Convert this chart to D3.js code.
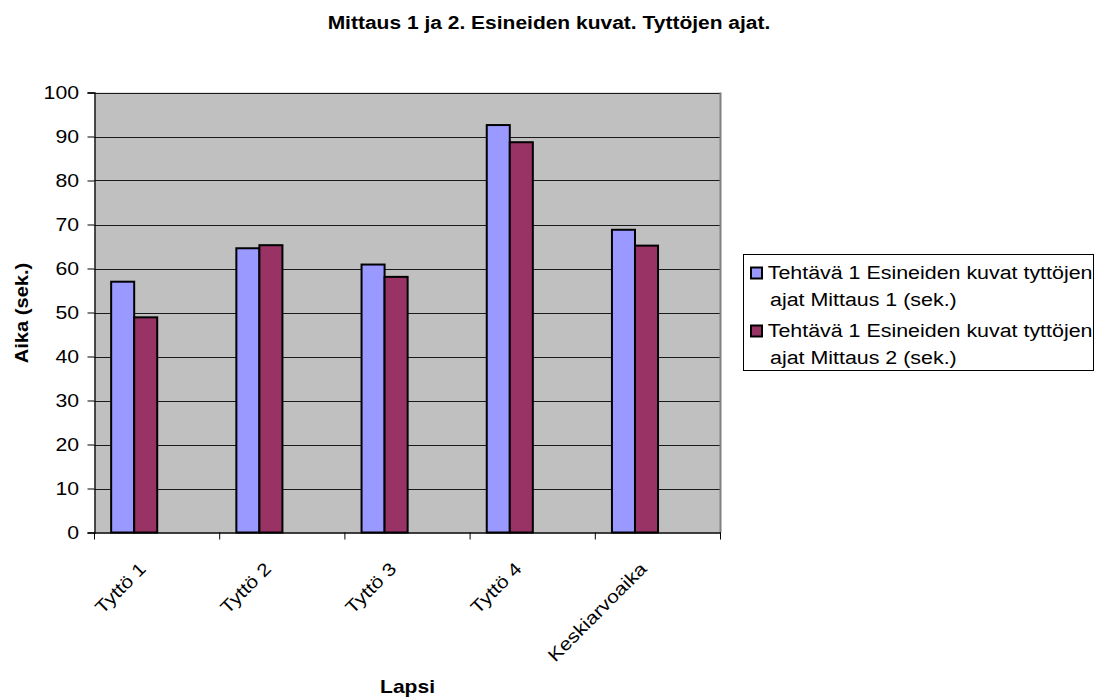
<!DOCTYPE html>
<html>
<head>
<meta charset="utf-8">
<script src="https://cdn.jsdelivr.net/npm/d3@7"></script>
<style>
  html, body { margin: 0; padding: 0; background: #fff; }
  svg { display: block; font-family: "Liberation Sans", Arial, sans-serif; }
</style>
</head>
<body>
<svg id="chart" width="1100" height="698"></svg>
<script>
// Children (categories) and the two measurement rounds
const categories = ["Tyttö 1", "Tyttö 2", "Tyttö 3", "Tyttö 4", "Keskiarvoaika"];
const seriesNames = [
  "Tehtävä 1 Esineiden kuvat tyttöjen ajat Mittaus 1 (sek.)",
  "Tehtävä 1 Esineiden kuvat tyttöjen ajat Mittaus 2 (sek.)"
];
const mittaus1 = [57.0, 64.6, 60.9, 92.6, 68.8];
const mittaus2 = [48.9, 65.3, 58.1, 88.7, 65.2];
const yTicks = [0, 10, 20, 30, 40, 50, 60, 70, 80, 90, 100];
const seriesColors = ["#9999FF", "#993366"];

const svg = d3.select("#chart");
const plot = { left: 94.5, right: 720.5, top: 92.5, bottom: 532.5 };
const WIDE = 1.18; // horizontal widening of the chart lettering

const x0 = d3.scaleBand().domain(categories).range([plot.left, plot.right]).padding(0);
const bw = x0.bandwidth();
const x1 = d3.scaleBand().domain([0, 1]).range([bw * 0.133, bw * 0.133 + bw * 0.368]).padding(0);
const y = d3.scaleLinear().domain([0, 100]).range([plot.bottom, plot.top]);

// Text placed at (x, y), optionally rotated, widened along its baseline
function label(parent, x, yy, str, opts = {}) {
  const rot = opts.rotate || 0;
  const g = parent.append("g")
    .attr("transform", `translate(${x},${yy}) rotate(${rot}) scale(${opts.wide || WIDE},1)`);
  return g.append("text")
    .attr("text-anchor", opts.anchor || "start")
    .attr("dy", opts.dy || 0)
    .attr("font-size", opts.size || 18)
    .attr("font-weight", opts.bold ? "bold" : "normal")
    .attr("fill", "#000")
    .text(str);
}

// Plot background
svg.append("rect")
  .attr("x", plot.left).attr("y", plot.top)
  .attr("width", plot.right - plot.left).attr("height", plot.bottom - plot.top)
  .attr("fill", "#C0C0C0");

// Horizontal gridlines
svg.append("g")
  .selectAll("line")
  .data(yTicks.filter(d => d > 0))
  .join("line")
  .attr("x1", plot.left).attr("x2", plot.right)
  .attr("y1", d => Math.round(y(d)) + 0.5).attr("y2", d => Math.round(y(d)) + 0.5)
  .attr("stroke", "#1a1a1a").attr("stroke-width", 1.2);

// Right border of the plot area
svg.append("line")
  .attr("x1", plot.right).attr("x2", plot.right)
  .attr("y1", plot.top).attr("y2", plot.bottom)
  .attr("stroke", "#808080").attr("stroke-width", 2);

// Bars
const rows = categories.map((c, i) => ({ cat: c, vals: [mittaus1[i], mittaus2[i]] }));
const groups = svg.append("g")
  .selectAll("g")
  .data(rows)
  .join("g")
  .attr("transform", d => `translate(${x0(d.cat)},0)`);
groups.selectAll("rect")
  .data(d => d.vals.map((v, s) => ({ v, s })))
  .join("rect")
  .attr("x", d => x1(d.s))
  .attr("width", x1.bandwidth())
  .attr("y", d => y(d.v))
  .attr("height", d => y(0) - y(d.v))
  .attr("fill", d => seriesColors[d.s])
  .attr("stroke", "#000")
  .attr("stroke-width", 2);

// Y axis
const yAxis = d3.axisLeft(y).tickValues(yTicks).tickSize(7).tickFormat("");
const gy = svg.append("g").attr("transform", `translate(${plot.left},0)`).call(yAxis);
gy.select(".domain").attr("stroke", "#000").attr("stroke-width", 1.3);
gy.selectAll(".tick line").attr("stroke", "#000");
const yLabels = svg.append("g");
yTicks.forEach(t => label(yLabels, 79, y(t), d3.format("d")(t), { anchor: "end", dy: "0.36em" }));

// X axis with ticks at category boundaries
const xAxis = d3.axisBottom(x0).tickSize(0).tickFormat("");
const gx = svg.append("g").attr("transform", `translate(0,${plot.bottom})`).call(xAxis);
gx.select(".domain").attr("stroke", "#000").attr("stroke-width", 1.3);
svg.append("g")
  .selectAll("line")
  .data(d3.range(categories.length + 1))
  .join("line")
  .attr("x1", i => plot.left + i * bw).attr("x2", i => plot.left + i * bw)
  .attr("y1", plot.bottom).attr("y2", plot.bottom + 7)
  .attr("stroke", "#000");

// Rotated category labels
const xLabels = svg.append("g");
categories.forEach(c => label(xLabels, x0(c) + bw / 2 - 10, 570, c,
  { anchor: "end", rotate: -45, size: 18, wide: 1.17 }));

// Titles
label(svg, 549, 28.5, "Mittaus 1 ja 2. Esineiden kuvat. Tyttöjen ajat.",
  { anchor: "middle", bold: true, size: 18, wide: 1.166 });
label(svg, (plot.left + plot.right) / 2, 692.5, "Lapsi",
  { anchor: "middle", bold: true, size: 18, wide: 1.17 });
label(svg, 28, 313, "Aika (sek.)",
  { anchor: "middle", bold: true, size: 19, rotate: -90, wide: 1.06 });

// Legend
const legend = svg.append("g").attr("transform", "translate(743,254)");
legend.append("rect")
  .attr("x", 0.5).attr("y", 0.5).attr("width", 350).attr("height", 116)
  .attr("fill", "#fff").attr("stroke", "#000");
const wrapLines = [
  ["Tehtävä 1 Esineiden kuvat tyttöjen", "ajat Mittaus 1 (sek.)"],
  ["Tehtävä 1 Esineiden kuvat tyttöjen", "ajat Mittaus 2 (sek.)"]
];
seriesNames.forEach((name, i) => {
  const item = legend.append("g").attr("transform", `translate(0,${i * 58})`);
  item.append("rect")
    .attr("x", 8).attr("y", 13.5).attr("width", 11).attr("height", 11)
    .attr("fill", seriesColors[i])
    .attr("stroke", "#000").attr("stroke-width", 2);
  label(item, 24.7, 25.3, wrapLines[i][0], { wide: 1.19 });
  label(item, 27, 52, wrapLines[i][1], { wide: 1.19 });
});
</script>
</body>
</html>
